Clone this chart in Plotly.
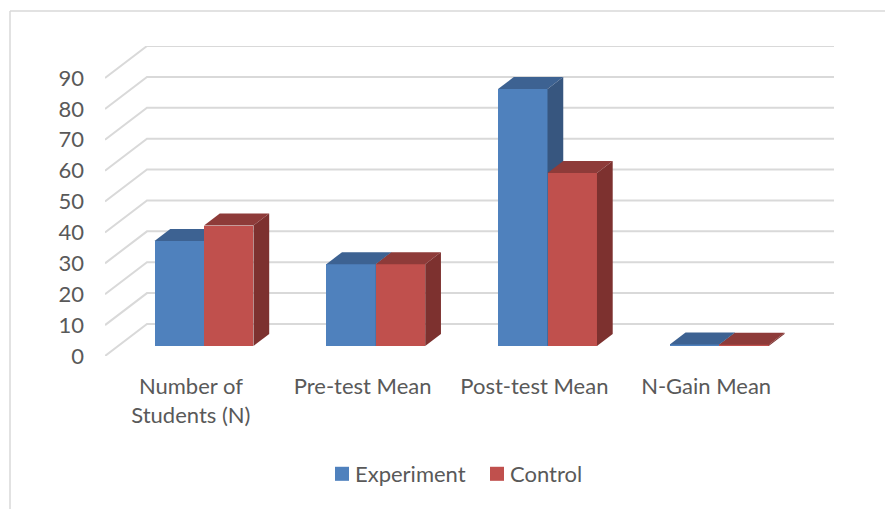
import plotly.graph_objects as go

categories = ["Number of<br>Students (N)", "Pre-test Mean", "Post-test Mean", "N-Gain Mean"]
experiment = [34, 26.5, 83.2, 0.5]
control = [39, 26.5, 56, 0.4]
y_ticks = [0, 10, 20, 30, 40, 50, 60, 70, 80, 90]

W, H = 885, 509
L, R, T, B = 105, 51, 46, 153
BG_FONT = "Lato"
TXT = "#595959"
GRID = "#D9D9D9"

# oblique projection of the depth axis, in data units
depth_x = 0.2445
depth_y = 10.36
bar_d0, bar_d1 = 0.3125, 0.6875
bar_w = 0.288
x_max = len(categories) + depth_x
y_max = max(y_ticks) + depth_y

fig = go.Figure()

# back wall and side wall gridlines
for v in y_ticks:
    fig.add_trace(go.Scatter(
        x=[0, depth_x, len(categories) + depth_x],
        y=[v, v + depth_y, v + depth_y],
        mode="lines", line=dict(color=GRID, width=2),
        hoverinfo="skip", showlegend=False, cliponaxis=False,
        xaxis="x", yaxis="y"))


def add_series(name, values, offset, front, top, side, xa, ya):
    xs = [i + 0.5 + bar_d0 * depth_x + offset for i in range(len(values))]
    base = bar_d0 * depth_y
    fig.add_trace(go.Bar(
        x=xs, y=values, base=[base] * len(values), width=[bar_w] * len(values),
        name=name, marker=dict(color=front, line=dict(width=0)),
        xaxis=xa, yaxis=ya))
    dx = (bar_d1 - bar_d0) * depth_x
    dy = (bar_d1 - bar_d0) * depth_y
    for xc, v in zip(xs, values):
        x0, x1 = xc - bar_w / 2, xc + bar_w / 2
        y0, y1 = base, base + v
        fig.add_trace(go.Scatter(
            x=[x0, x1, x1 + dx, x0 + dx, x0], y=[y1, y1, y1 + dy, y1 + dy, y1],
            fill="toself", fillcolor=top, mode="lines", line=dict(width=0, color=top),
            hoverinfo="skip", showlegend=False, xaxis=xa, yaxis=ya))
        fig.add_trace(go.Scatter(
            x=[x1, x1 + dx, x1 + dx, x1, x1], y=[y0, y0 + dy, y1 + dy, y1, y0],
            fill="toself", fillcolor=side, mode="lines", line=dict(width=0, color=side),
            hoverinfo="skip", showlegend=False, xaxis=xa, yaxis=ya))


add_series("Experiment", experiment, -bar_w / 2, "#4F81BD", "#3D6292", "#37567F", "x2", "y2")
add_series("Control", control, bar_w / 2, "#C0504D", "#8E3B39", "#7D312F", "x3", "y3")

font = dict(family=BG_FONT, size=22, color=TXT)
hidden_x = dict(range=[0, x_max], visible=False, overlaying="x", fixedrange=True)
hidden_y = dict(range=[0, y_max], visible=False, overlaying="y", fixedrange=True)

pw, ph = W - L - R, H - T - B


def px(v):
    return (v - L) / pw


def py(v):
    return (H - B - v) / ph


frame = dict(type="line", xref="paper", yref="paper", line=dict(color=GRID, width=1.5), layer="below")

fig.update_layout(
    width=W, height=H, autosize=False,
    margin=dict(l=L, r=R, t=T, b=B, pad=0),
    paper_bgcolor="white", plot_bgcolor="rgba(0,0,0,0)",
    font=font, barmode="overlay", bargap=0,
    xaxis=dict(range=[0, x_max], tickmode="array",
               tickvals=[i + 0.5 for i in range(len(categories))], ticktext=categories,
               showgrid=False, zeroline=False, showline=False, ticks="",
               ticklabelstandoff=15, tickangle=0, tickfont=font, fixedrange=True),
    yaxis=dict(range=[0, y_max], tickmode="array", tickvals=y_ticks,
               ticktext=[str(v) for v in y_ticks],
               showgrid=False, zeroline=False, showline=False, ticks="",
               ticklabelstandoff=20, tickfont=font, fixedrange=True),
    xaxis2=hidden_x, yaxis2=hidden_y, xaxis3=hidden_x, yaxis3=hidden_y,
    showlegend=True,
    legend=dict(orientation="h", x=px(315), xanchor="left", y=py(474), yanchor="middle",
                font=font, entrywidth=110, traceorder="normal",
                bgcolor="rgba(0,0,0,0)"),
    shapes=[
        dict(frame, x0=px(10), x1=px(885), y0=py(11), y1=py(11)),
        dict(frame, x0=px(10), x1=px(10), y0=py(11), y1=py(509)),
    ],
)

# Drop the page margin, and close up Plotly's fixed swatch-to-label gap to match the reference legend.
post = ("document.body.style.margin='0';"
        "document.querySelectorAll('.legendsymbols').forEach(function(g){"
        "g.setAttribute('transform','translate(3.6,0) scale(1.17)');});")
fig.write_html("out.html", config=dict(displayModeBar=False), post_script=post)
